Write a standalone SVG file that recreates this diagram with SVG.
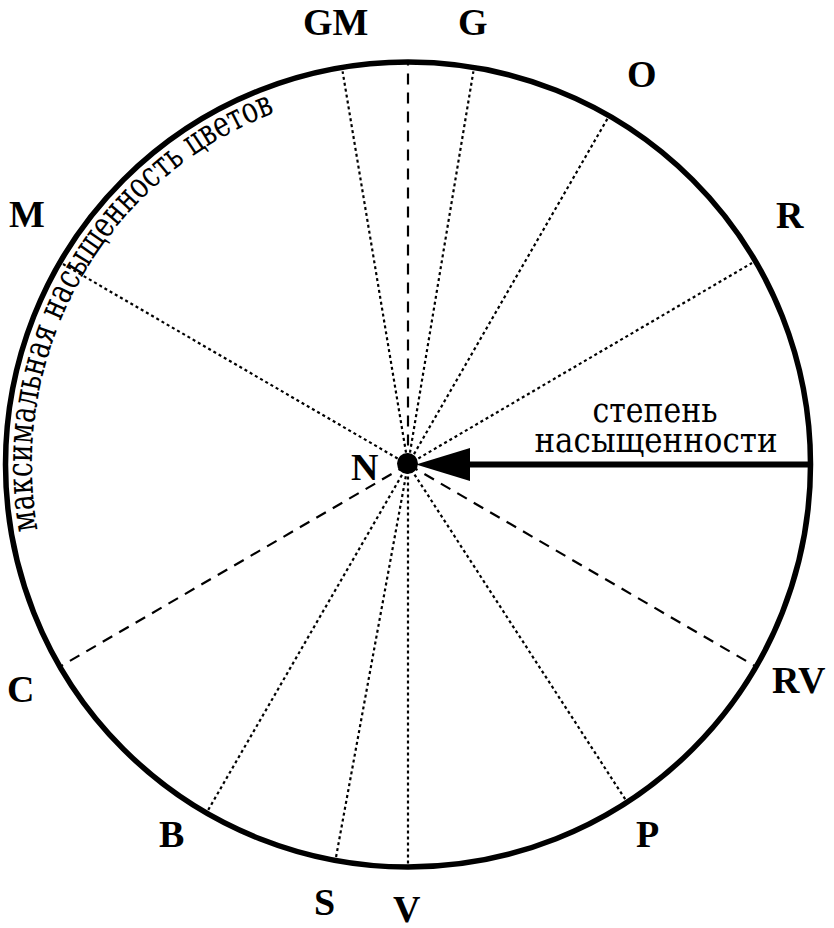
<svg xmlns="http://www.w3.org/2000/svg" width="834" height="928" viewBox="0 0 834 928">
<style>
.lbl{font-family:"Liberation Serif","Times New Roman",serif;font-weight:bold;font-size:38px;fill:#000}
.txt{font-family:"DejaVu Serif","Liberation Serif",serif;font-size:36px;fill:#000}
.dot{stroke:#000;stroke-width:2.2;stroke-dasharray:3 3;fill:none}
.dash{stroke:#000;stroke-width:2.2;stroke-dasharray:11 8;fill:none}
</style>
<defs>
<path id="arcText" d="M 37.7,529.8 A 376 376 0 0 1 342.7,94.2"/>
</defs>
<rect width="834" height="928" fill="#fff"/>
<g id="connectors">
<line class="dot" x1="408" y1="464.5" x2="342.6" y2="71.4"/>
<line class="dash" x1="408" y1="464.5" x2="408" y2="62"/>
<line class="dot" x1="408" y1="464.5" x2="473.4" y2="71.4"/>
<line class="dot" x1="408" y1="464.5" x2="609" y2="116"/>
<line class="dot" x1="408" y1="464.5" x2="752" y2="263"/>
<line class="dot" x1="408" y1="464.5" x2="62" y2="263.5"/>
<line class="dash" x1="408" y1="464.5" x2="62" y2="665.5"/>
<line class="dot" x1="408" y1="464.5" x2="207" y2="812"/>
<line class="dot" x1="408" y1="464.5" x2="335.5" y2="860"/>
<line class="dot" x1="408" y1="464.5" x2="408" y2="867"/>
<line class="dot" x1="408" y1="464.5" x2="627" y2="802"/>
<line class="dash" x1="408" y1="464.5" x2="754" y2="665.5"/>
<line x1="466" y1="464.5" x2="810" y2="464.5" stroke="#000" stroke-width="6"/>
<polygon points="416,464.5 470,448 470,481" fill="#000"/>
</g>
<g id="wheel">
<circle cx="408" cy="464.5" r="402.5" fill="none" stroke="#000" stroke-width="5.5"/>
</g>
<g id="node-N">
<circle cx="407.5" cy="463.5" r="10.5" fill="#000"/>
<text class="lbl" x="351" y="480" font-size="36">N</text>
</g>
<g id="node-GM"><text class="lbl" x="303" y="35">GM</text></g>
<g id="node-G"><text class="lbl" x="458" y="35">G</text></g>
<g id="node-O"><text class="lbl" x="627" y="87">O</text></g>
<g id="node-R"><text class="lbl" x="776" y="228">R</text></g>
<g id="node-M"><text class="lbl" x="9" y="227">M</text></g>
<g id="node-C"><text class="lbl" x="7" y="702">C</text></g>
<g id="node-B"><text class="lbl" x="159" y="847">B</text></g>
<g id="node-S"><text class="lbl" x="314" y="915">S</text></g>
<g id="node-V"><text class="lbl" x="393" y="922">V</text></g>
<g id="node-P"><text class="lbl" x="636" y="847">P</text></g>
<g id="node-RV"><text class="lbl" x="772" y="693">RV</text></g>
<g id="label-saturation">
<text class="txt" text-anchor="middle" x="655" y="422" textLength="125" lengthAdjust="spacingAndGlyphs">степень</text>
<text class="txt" text-anchor="middle" x="656" y="452" textLength="243" lengthAdjust="spacingAndGlyphs">насыщенности</text>
</g>
<g id="label-max">
<text class="txt" font-size="34"><textPath href="#arcText" textLength="520" lengthAdjust="spacingAndGlyphs">максимальная насыщенность цветов</textPath></text>
</g>
</svg>
